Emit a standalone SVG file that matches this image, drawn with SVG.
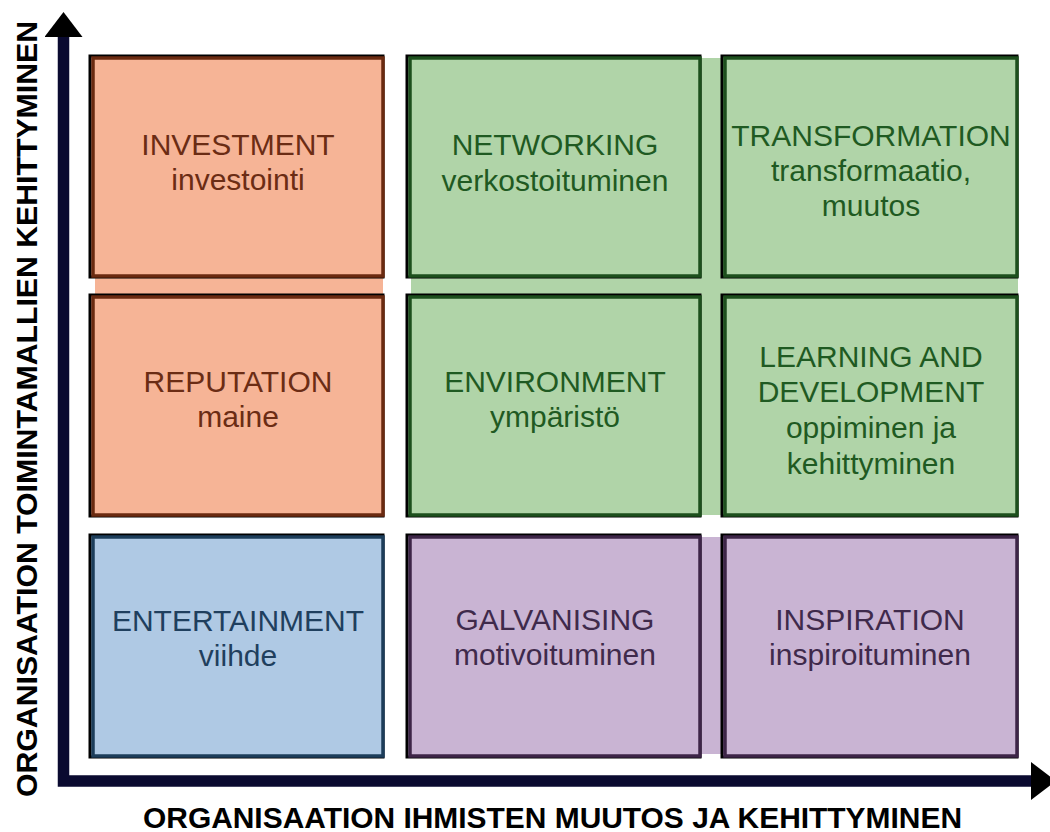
<svg xmlns="http://www.w3.org/2000/svg" width="1050" height="832" viewBox="0 0 1050 832">
  <style>
    .lbl { font-family: "Liberation Sans", Arial, sans-serif; font-size: 30px; text-anchor: middle; }
    .axis-title { font-family: "Liberation Sans", Arial, sans-serif; font-size: 29px; font-weight: bold; fill: #000; }
    .shadow { fill: none; stroke: #000; stroke-width: 3; }
    .orange rect.box { fill: #f6b496; stroke: #6a2a10; }
    .orange text { fill: #6b2c14; }
    .green rect.box { fill: #b0d4a8; stroke: #1d4f1d; }
    .green text { fill: #1f5a22; }
    .blue rect.box { fill: #afc9e4; stroke: #1c3d5a; }
    .blue text { fill: #1f3f5e; }
    .purple rect.box { fill: #c9b4d3; stroke: #3d2547; }
    .purple text { fill: #3f2a4b; }
    rect.box { stroke-width: 3.5; }
  </style>
  <defs>
    <marker id="arrowhead" markerUnits="userSpaceOnUse" markerWidth="26" markerHeight="40" refX="0" refY="19" orient="auto-start-reverse" viewBox="0 0 26 40">
      <path d="M0,0 L25,19 L0,38 Z" fill="#000"/>
    </marker>
  </defs>

  <rect width="1050" height="832" fill="#fff"/>

  <!-- colour bands joining cells of the same group -->
  <g id="bands">
    <rect x="95" y="60" width="288" height="452" fill="#f6b496"/>
    <rect x="411" y="58" width="607" height="457" fill="#b0d4a8"/>
    <rect x="690" y="537" width="40" height="217" fill="#c9b4d3"/>
  </g>

  <!-- axes -->
  <g id="connectors">
    <path d="M63.5,37 V781 H1031" fill="none" stroke="#0a0a30" stroke-width="11.5" stroke-linejoin="miter" marker-start="url(#arrowhead)" marker-end="url(#arrowhead)"/>
  </g>

  <g id="investment" class="orange">
    <rect class="shadow" x="90" y="56" width="293" height="221"/>
    <rect class="box" x="93" y="58" width="290" height="218"/>
    <text class="lbl" x="238" y="155">INVESTMENT</text>
    <text class="lbl" x="238" y="190">investointi</text>
  </g>

  <g id="reputation" class="orange">
    <rect class="shadow" x="90" y="295" width="293" height="221"/>
    <rect class="box" x="93" y="297" width="290" height="218"/>
    <text class="lbl" x="238" y="392">REPUTATION</text>
    <text class="lbl" x="238" y="427">maine</text>
  </g>

  <g id="entertainment" class="blue">
    <rect class="shadow" x="90" y="535" width="293" height="222"/>
    <rect class="box" x="93" y="537" width="290" height="219"/>
    <text class="lbl" x="238" y="631">ENTERTAINMENT</text>
    <text class="lbl" x="238" y="666">viihde</text>
  </g>

  <g id="networking" class="green">
    <rect class="shadow" x="407" y="56" width="293" height="221"/>
    <rect class="box" x="410" y="58" width="290" height="218"/>
    <text class="lbl" x="555" y="155">NETWORKING</text>
    <text class="lbl" x="555" y="191">verkostoituminen</text>
  </g>

  <g id="transformation" class="green">
    <rect class="shadow" x="722" y="56" width="295" height="221"/>
    <rect class="box" x="725" y="58" width="292" height="218"/>
    <text class="lbl" x="871" y="146">TRANSFORMATION</text>
    <text class="lbl" x="871" y="181">transformaatio,</text>
    <text class="lbl" x="871" y="216">muutos</text>
  </g>

  <g id="environment" class="green">
    <rect class="shadow" x="407" y="295" width="293" height="221"/>
    <rect class="box" x="410" y="297" width="290" height="218"/>
    <text class="lbl" x="555" y="392">ENVIRONMENT</text>
    <text class="lbl" x="555" y="427">ympäristö</text>
  </g>

  <g id="learning" class="green">
    <rect class="shadow" x="722" y="295" width="295" height="221"/>
    <rect class="box" x="725" y="297" width="292" height="218"/>
    <text class="lbl" x="871" y="367">LEARNING AND</text>
    <text class="lbl" x="871" y="402">DEVELOPMENT</text>
    <text class="lbl" x="871" y="438">oppiminen ja</text>
    <text class="lbl" x="871" y="474">kehittyminen</text>
  </g>

  <g id="galvanising" class="purple">
    <rect class="shadow" x="407" y="535" width="293" height="222"/>
    <rect class="box" x="410" y="537" width="290" height="219"/>
    <text class="lbl" x="555" y="630">GALVANISING</text>
    <text class="lbl" x="555" y="665">motivoituminen</text>
  </g>

  <g id="inspiration" class="purple">
    <rect class="shadow" x="722" y="535" width="295" height="222"/>
    <rect class="box" x="725" y="537" width="292" height="219"/>
    <text class="lbl" x="870" y="630">INSPIRATION</text>
    <text class="lbl" x="870" y="665">inspiroituminen</text>
  </g>

  <!-- axis titles -->
  <g id="axis-labels">
    <text class="axis-title" x="143" y="828" textLength="819" lengthAdjust="spacingAndGlyphs">ORGANISAATION IHMISTEN MUUTOS JA KEHITTYMINEN</text>
    <text class="axis-title" transform="translate(37,797) rotate(-90)" textLength="776" lengthAdjust="spacingAndGlyphs">ORGANISAATION TOIMINTAMALLIEN KEHITTYMINEN</text>
  </g>
</svg>
